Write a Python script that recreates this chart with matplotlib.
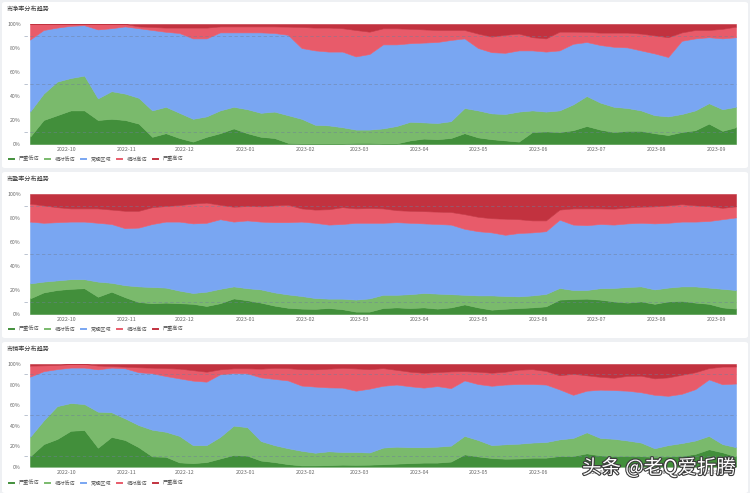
import numpy as np
import pandas as pd
import matplotlib
matplotlib.use("Agg")
import matplotlib.pyplot as plt
import matplotlib.patheffects as pe
from matplotlib.lines import Line2D
from matplotlib.patches import FancyBboxPatch

plt.rcParams['font.family'] = ['Noto Sans CJK SC', 'DejaVu Sans']

# weekly samples, cumulative share (%) at the top of each band
dates = pd.date_range("2022-09-12", periods=53, freq="7D")

labels = ["严重低估", "相对低估", "常规区域", "相对高估", "严重高估"]
colors = ["#428f3b", "#7aba6c", "#79a6f2", "#e85b6a", "#c2323f"]
titles = ["市净率分布趋势", "市盈率分布趋势", "市销率分布趋势"]

# 市净率
pb_severe_low = [6, 20, 24, 28, 28, 20, 21, 20, 17, 6, 9, 5, 2, 6, 9, 13, 9, 6, 5, 1,
                 0.5, 0.5, 0.5, 0.5, 1, 1, 0.5, 0.5, 3, 4.5, 4, 5, 9, 5.5, 4, 3, 2, 10,
                 10.5, 10, 11.5, 15, 12, 10, 11, 11, 9, 7.5, 10, 11.5, 17, 11, 14]
pb_low = [27, 42, 52, 55, 57, 38, 44, 42, 38.5, 28, 31, 26, 21, 23, 28, 31, 29, 26, 27, 24,
          21, 16, 15.5, 14, 12, 12, 13, 15, 18.5, 18, 17.5, 19, 30, 28, 25.5, 25, 27, 28,
          27, 28, 33, 40, 34.5, 31, 30, 28, 24, 23, 25, 28, 34, 29, 31]
pb_normal = [87, 95, 97, 98.5, 99, 95.5, 96.5, 98, 96.5, 95, 93.5, 92.5, 88, 88, 93, 93, 93,
             93, 92.5, 91, 80, 78, 77, 77, 73, 75, 83, 83, 84, 84.5, 85, 86.7, 88, 80, 76.5,
             76, 78, 78, 77, 78, 83.5, 85, 82.5, 81, 80.5, 78, 75.5, 72.5, 86, 88, 89, 88, 89]
pb_high = [100, 100, 100, 100, 100, 100, 100, 100, 98, 97.5, 97, 97, 97, 97, 98, 98, 98, 98,
           98, 97.8, 97.5, 97, 97, 96.5, 95, 93.6, 96.4, 96.4, 96, 95.5, 95, 95, 95, 92,
           89.5, 91, 92, 89, 88, 93.6, 93.6, 93.5, 92.8, 92.8, 92.8, 92, 90.5, 89, 93, 95,
           95, 96, 97.8]

# 市盈率
pe_severe_low = [13, 18, 20, 21, 21.5, 14.4, 18.6, 14, 10, 9, 9.5, 9, 8.5, 6.7, 9, 13, 11.5,
                 9.5, 7, 5.2, 4.5, 4.3, 5, 4, 2, 2, 5, 5.5, 5, 5.5, 4.5, 5.5, 8, 5.5, 3.6,
                 4.4, 5, 5.5, 6.4, 12, 12.5, 12.8, 12, 10.5, 9.5, 10.5, 8.5, 10.5, 11, 9.5,
                 8.5, 5.5, 4.5]
pe_low = [25.5, 27, 28, 29, 29, 27, 26, 24, 23, 22.5, 22, 19.5, 17.5, 18.6, 21, 23, 21.5,
          20.5, 18, 16.3, 15, 13.3, 12.8, 12.8, 12, 13, 16, 16, 16.5, 17.5, 17, 16.5, 16,
          15.5, 15.5, 15, 14.7, 15.5, 16.7, 21.7, 20, 20, 21.5, 21.7, 22.5, 23, 20.5, 22,
          23, 23, 22, 21, 20]
pe_normal = [77, 76, 76.5, 77, 77, 76, 75, 71.5, 72, 75, 77, 77, 75.5, 76, 79, 77, 78, 77,
             76.5, 76.5, 77, 76, 74.5, 75, 76, 76, 76, 76.5, 76, 75.5, 75, 74.5, 71, 69, 68,
             66, 67.5, 68, 69, 78.6, 74.5, 74, 75, 74.5, 75.5, 76, 75.5, 76, 77, 77, 77.5,
             79, 80.5]
pe_high = [92, 90.5, 89, 88, 88, 88, 87, 86, 86, 89, 90, 90.8, 92, 92.8, 91, 89.4, 90, 89.7,
           90.5, 91, 88, 87, 87.3, 89, 88, 88.3, 88, 86.5, 86, 85.7, 85.3, 85, 83.2, 81,
           79.8, 79.4, 79, 78, 78, 87, 88, 88, 88, 87.8, 88.7, 89.4, 89.7, 90.5, 91.5, 90.5,
           89.8, 88.5, 89.7]

# 市销率
ps_severe_low = [10, 22, 27, 35, 35.7, 18.5, 29, 26, 19, 10, 9.7, 4.2, 3.5, 4.5, 8, 11.4,
                 10.8, 6, 4.5, 2.5, 1.3, 1.3, 1.5, 2, 1.8, 2, 2.4, 3, 3.5, 4, 4, 5, 12, 10,
                 8.5, 7.8, 8, 8.8, 8.8, 10.4, 10.4, 13, 11, 10.4, 10.6, 10.2, 9.7, 10, 10.6,
                 12.5, 17, 14, 10]
ps_low = [29, 45, 59, 62, 61, 53.6, 53, 47, 40.5, 36, 34, 30, 21, 21, 29, 40, 38.5, 25, 21,
          18, 15.5, 13.6, 15, 14.3, 14.3, 13.8, 18.6, 19.5, 19, 19, 19.5, 20.5, 30, 26, 21,
          21.8, 22.4, 23.5, 24, 26.6, 28, 33.5, 28, 27.2, 25.5, 23.5, 18, 21, 23, 25.5, 30,
          22, 19]
ps_normal = [87.7, 93, 95, 96.5, 96.5, 94.8, 96.5, 95.8, 92, 91, 88.3, 86, 83.8, 82.8, 90,
             91.2, 90.9, 87, 85.5, 84, 79, 78, 77.2, 77, 74, 76, 78.8, 80, 78.3, 77, 78.5,
             76.5, 84, 80.5, 78.8, 80, 80.5, 80.5, 80, 75.3, 70, 74, 75, 74.6, 74, 72.5, 70,
             69, 71, 75.5, 85, 80.3, 81]
ps_high = [98.4, 98.7, 99, 100, 100, 98.5, 98, 97.4, 96.8, 96.4, 96, 95.5, 94, 92.5, 94.8,
           95.8, 95.8, 95.5, 96.2, 96, 95, 94.8, 95.5, 96.2, 95.7, 95, 96, 94.3, 92.5, 91.5,
           92.2, 92.8, 93, 92.5, 91.5, 92.5, 94.5, 95, 93.2, 89, 90.5, 89, 87.5, 86.6, 88.5,
           88.6, 86, 87, 89.5, 92, 96, 97.5, 97.6]

panels = [
    (pb_severe_low, pb_low, pb_normal, pb_high),
    (pe_severe_low, pe_low, pe_normal, pe_high),
    (ps_severe_low, ps_low, ps_normal, ps_high),
]

W, H = 750, 493
fig = plt.figure(figsize=(W / 100, H / 100), dpi=100)
fig.patch.set_facecolor("#eef0f3")


def fx(px):
    return px / W


def fy(py):
    return 1 - py / H


# card rectangles (top, bottom) in pixels and plot area (top, bottom)
cards = [(2, 168), (172, 338), (342, 493)]
plot_area = [(24, 144), (194, 314), (364, 466.7)]
title_y = [9, 179, 349]
legend_y = [159, 329, 483]

for (c0, c1) in cards:
    card = FancyBboxPatch((fx(2), fy(c1)), fx(746), (c1 - c0) / H,
                          boxstyle="round,pad=0,rounding_size=0.004",
                          transform=fig.transFigure, facecolor="white",
                          edgecolor="none", zorder=-10)
    fig.add_artist(card)

months = pd.date_range("2022-10-01", "2023-09-01", freq="MS")

for k, bounds in enumerate(panels):
    top, bottom = plot_area[k]
    ax = fig.add_axes([fx(30), fy(bottom), fx(706), (bottom - top) / H], zorder=1)
    ax.patch.set_alpha(0)
    cum = np.array(bounds, dtype=float)
    cum = np.vstack([np.zeros(len(dates)), cum, np.full(len(dates), 100.0)])
    layers = np.diff(cum, axis=0)
    polys = ax.stackplot(dates, layers, colors=colors)
    for p, c in zip(polys, colors):
        p.set_edgecolor(c)
        p.set_linewidth(0.4)

    for lvl in (10, 50, 90):
        ax.plot([-0.009, 1], [lvl, lvl], transform=ax.get_yaxis_transform(),
                color="#6f7f99", lw=0.6, dashes=(4, 3), alpha=0.55, clip_on=False)

    ax.set_xlim(dates[0], dates[-1])
    ax.set_ylim(0, 100)
    ax.set_yticks(range(0, 101, 20))
    ax.set_yticklabels([f"{v}%" for v in range(0, 101, 20)])
    ax.set_xticks(months)
    ax.set_xticklabels([d.strftime("%Y-%m") for d in months])
    ax.tick_params(axis="y", length=0, labelsize=3.8, colors="#666666", pad=6.5)
    ax.tick_params(axis="x", length=0, labelsize=3.8, colors="#666666", pad=2.5)
    for s in ax.spines.values():
        s.set_visible(False)

    fig.text(fx(7), fy(title_y[k]), titles[k], fontsize=4.4, color="#333333",
             va="center", ha="left")

    for j, (lab, col) in enumerate(zip(labels, colors)):
        x0 = 9 + 36 * j
        fig.add_artist(Line2D([fx(x0), fx(x0 + 5)], [fy(legend_y[k])] * 2,
                              transform=fig.transFigure, color=col, lw=1.4))
        fig.text(fx(x0 + 10), fy(legend_y[k]), lab, fontsize=3.7, color="#555555",
                 va="center", ha="left")

# watermark over the last panel, as in the source image
fig.text(fx(582), fy(468), "头条 @老Q爱折腾", fontsize=14, color="white",
         va="center", ha="left", zorder=5,
         path_effects=[pe.withStroke(linewidth=1.6, foreground="#3a3a3a")])

fig.savefig("out.png", dpi=100, facecolor=fig.get_facecolor())
